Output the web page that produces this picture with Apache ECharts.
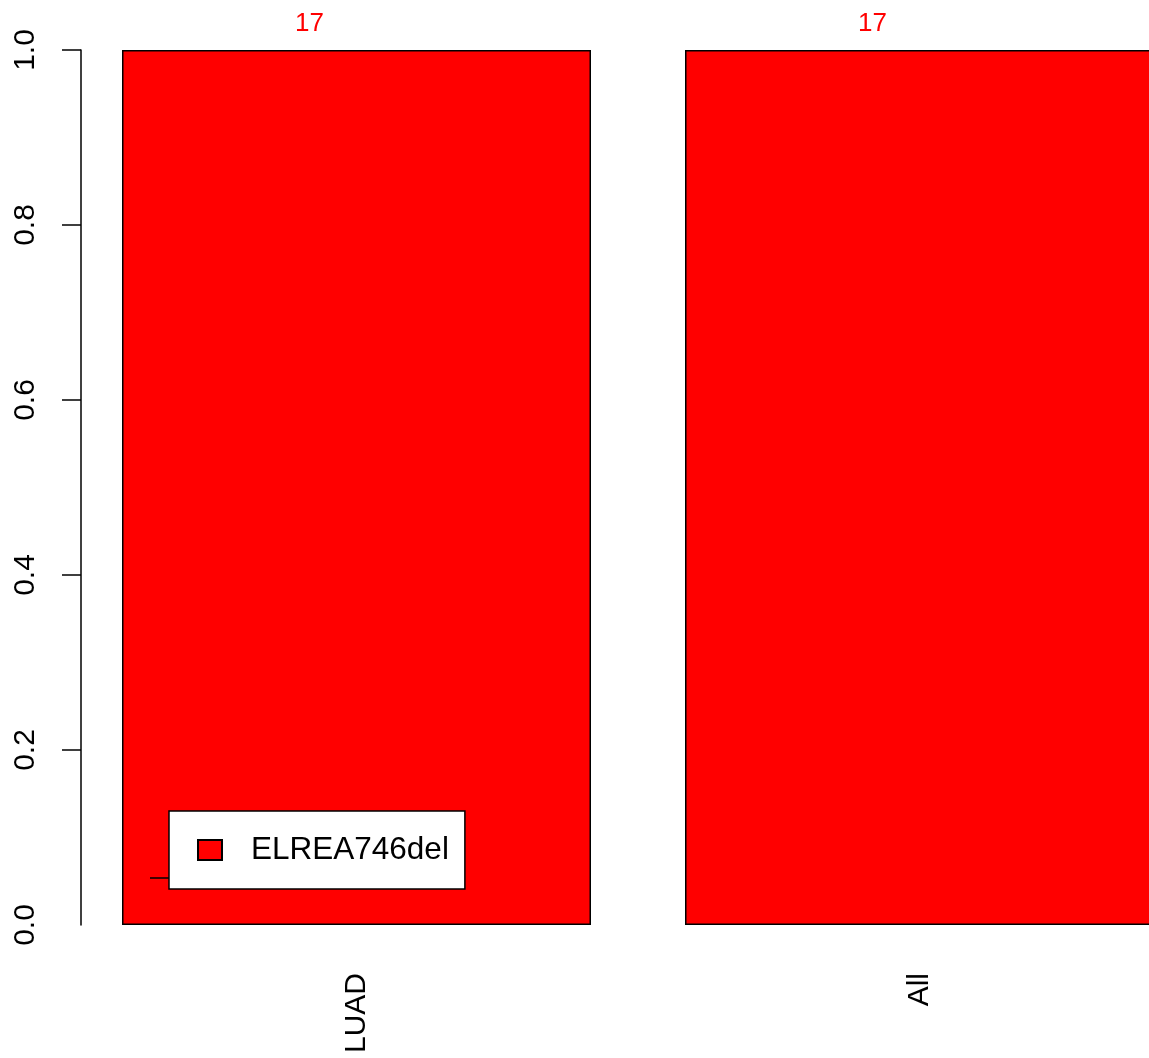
<!DOCTYPE html>
<html><head><meta charset="utf-8">
<script src="https://cdn.jsdelivr.net/npm/echarts@6/dist/echarts.min.js"></script>
<style>html,body{margin:0;padding:0;background:#fff;overflow:hidden}#c{width:1201px;height:1058px}</style>
</head><body><div id="c"></div>
<script>
const categories = ['LUAD', 'All'];
const values = [1.0, 1.0];
const counts = [17, 17];
const seriesName = 'ELREA746del';
const yTicks = [0, 0.2, 0.4, 0.6, 0.8, 1.0];

const FONT = '"Liberation Sans", Arial, Helvetica, sans-serif';
const chart = echarts.init(document.getElementById('c'), null, {renderer: 'canvas'});
chart.setOption({
  animation: false,
  backgroundColor: '#fff',
  grid: {left: 75, right: 0, top: 50, bottom: 133, containLabel: false},
  xAxis: {
    type: 'category', data: categories,
    axisLine: {show: false}, axisTick: {show: false},
    axisLabel: {rotate: 90, margin: 48, fontSize: 30, color: '#000', fontFamily: FONT}
  },
  yAxis: {
    type: 'value', min: 0, max: 1, interval: 0.2, offset: -6,
    splitLine: {show: false},
    axisLine: {show: true, lineStyle: {color: '#000', width: 1.5}},
    axisTick: {show: true, length: 19, lineStyle: {color: '#000', width: 1.5}, customValues: yTicks.slice(1)},
    axisLabel: {rotate: 90, margin: 40, fontSize: 30, color: '#000', fontFamily: FONT,
      formatter: v => v.toFixed(1), customValues: yTicks}
  },
  legend: {
    show: true, left: 169, top: 811, orient: 'vertical',
    padding: [23, 16, 23, 28], itemWidth: 24, itemHeight: 20,
    backgroundColor: '#fff', borderColor: '#000', borderWidth: 1.5, borderRadius: 0,
    textStyle: {fontSize: 31.5, color: '#000', fontFamily: FONT, padding: [0, 0, 0, 24]},
    icon: 'rect', data: [seriesName]
  },
  series: [{
    name: seriesName, type: 'bar', data: values, barWidth: 469,
    itemStyle: {color: '#ff0000', borderColor: '#000', borderWidth: 1.5},
    label: {show: true, position: 'top', distance: 13, offset: [-47, 0], color: '#ff0000', fontSize: 26, fontFamily: FONT,
      formatter: p => String(counts[p.dataIndex])}
  }],
  graphic: [{type: 'line', shape: {x1: 150, y1: 878, x2: 169, y2: 878}, style: {stroke: '#000', lineWidth: 1.5}, z: 100}]
});
</script></body></html>
